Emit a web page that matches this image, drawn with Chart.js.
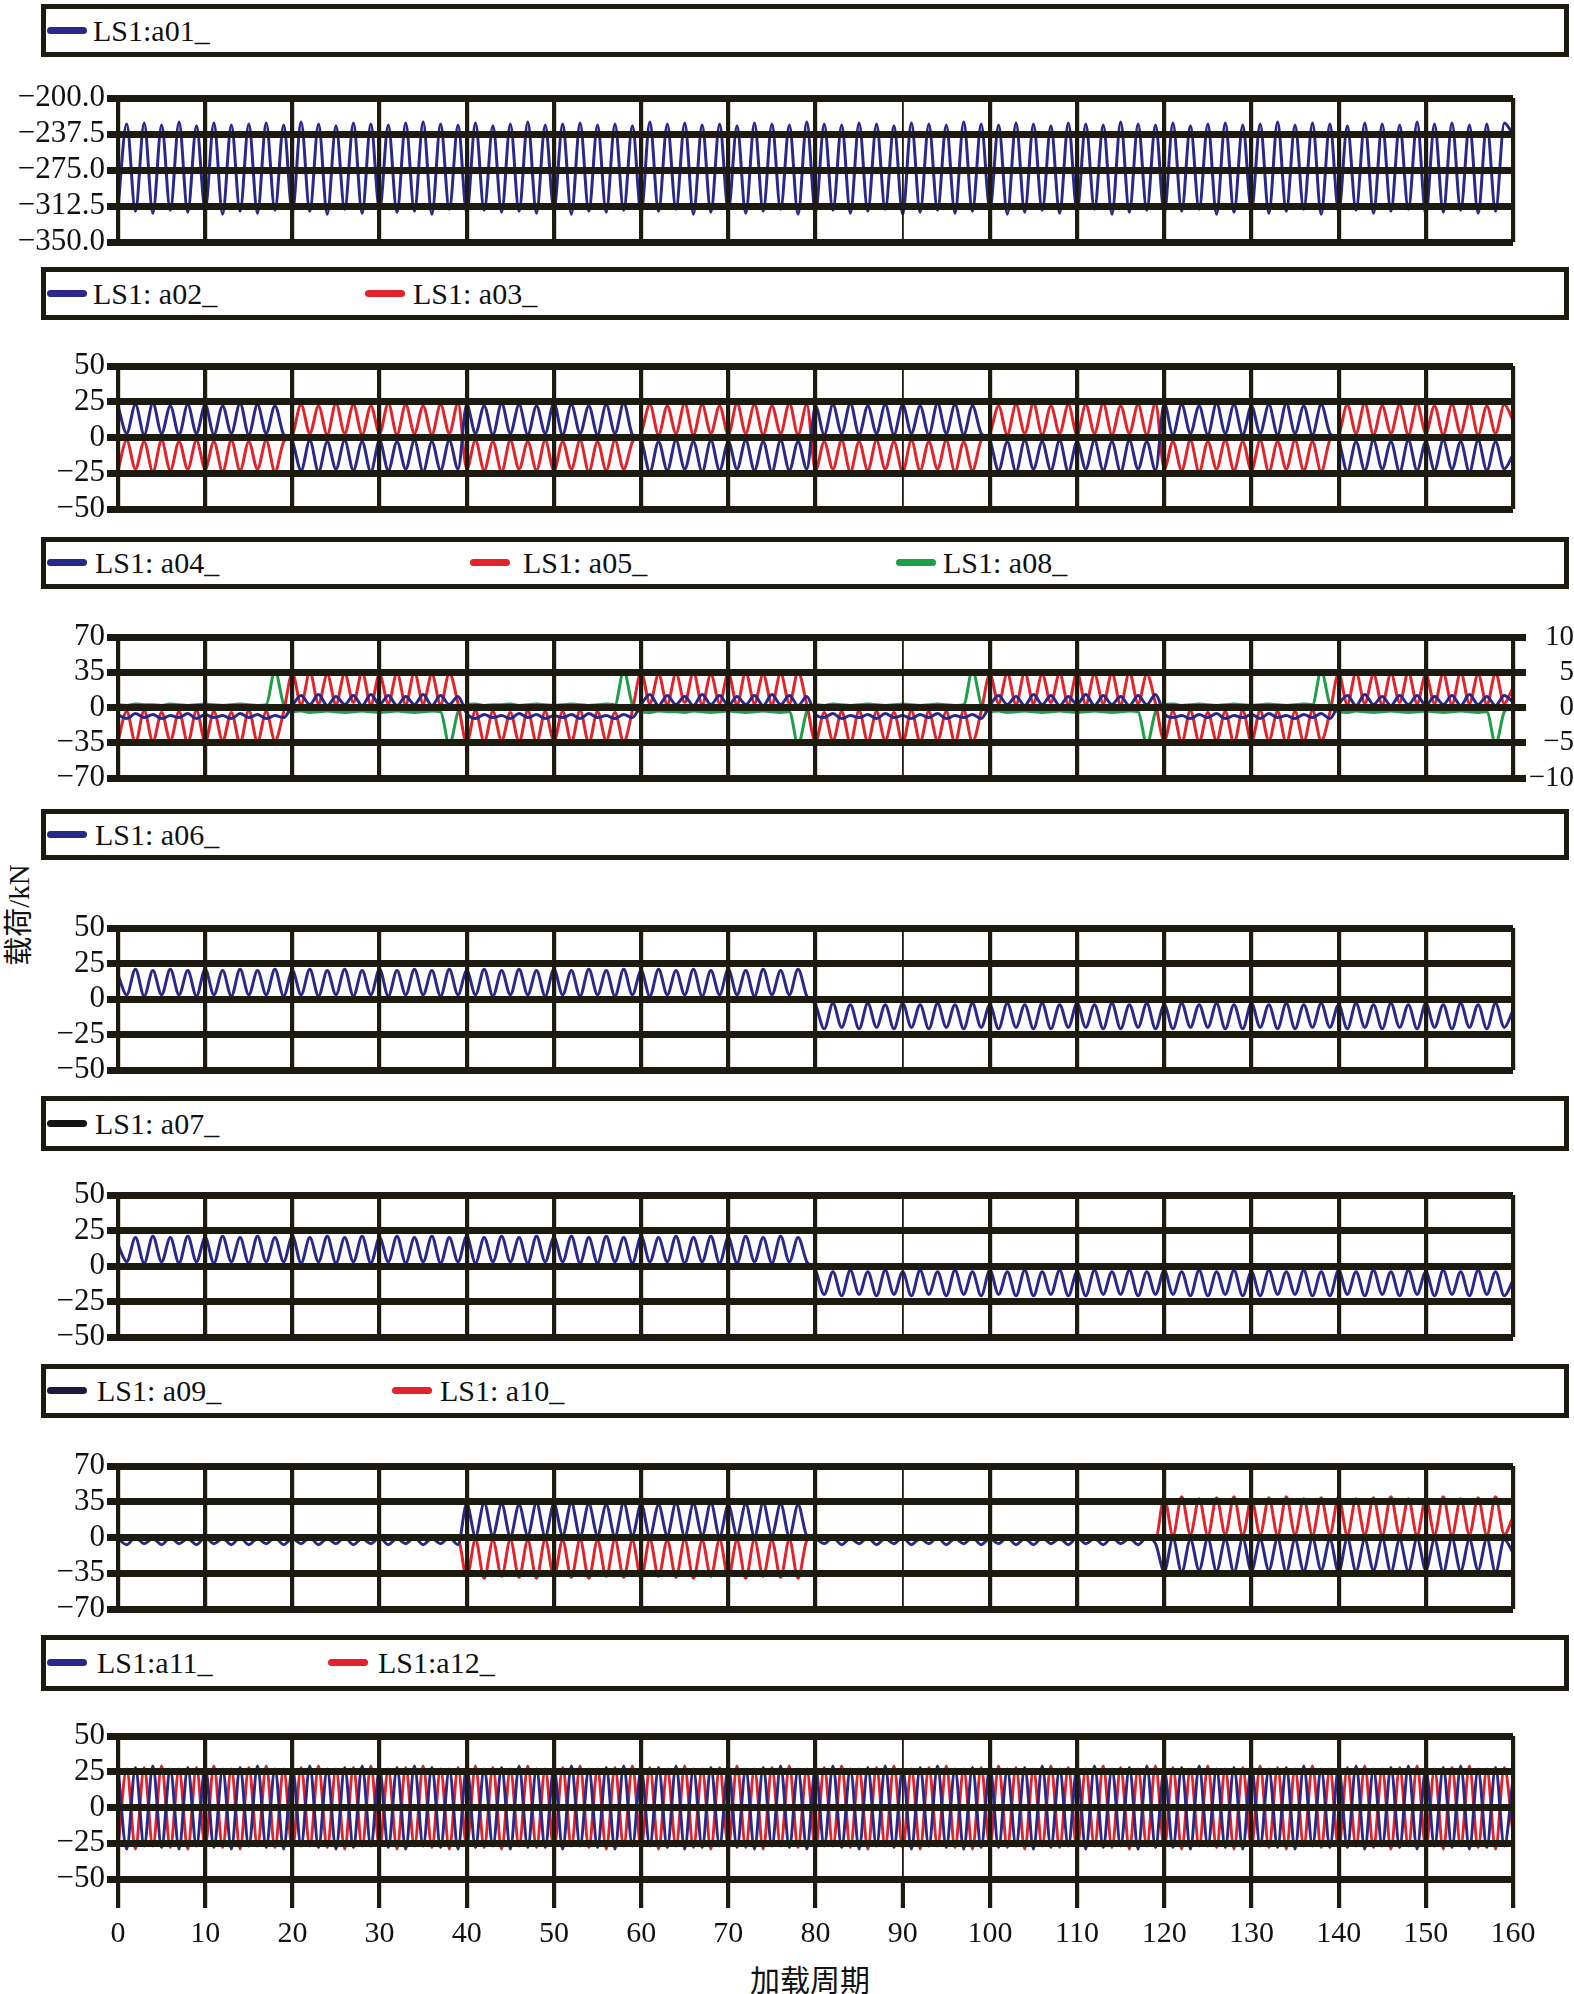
<!DOCTYPE html>
<html>
<head>
<meta charset="utf-8">
<script src="https://cdn.jsdelivr.net/npm/chart.js@4.4.1/dist/chart.umd.min.js"></script>
<style>
  body { margin: 0; background: #fff; }
  #page { position: relative; width: 1574px; height: 1994px; overflow: hidden; font-family: "Liberation Serif", serif; }
  #page canvas { position: absolute; left: 0; }
  .legend { position: absolute; left: 41px; width: 1528px; border: 5px solid #1d1a0f; box-sizing: border-box; background: #fff; }
  .legend .mk { position: absolute; width: 40px; height: 7px; border-radius: 3.5px; }
  .legend .tx { position: absolute; font-size: 30px; color: #111; white-space: pre; }
  .ytitle { position: absolute; left: 16px; top: 915px; transform: translate(-50%, -50%) rotate(-90deg); font-size: 29px; color: #111; white-space: nowrap; font-family: "Liberation Serif", "Noto Sans CJK SC", serif; }
  .xtitle { position: absolute; left: 810px; top: 1978px; transform: translate(-50%, -50%); font-size: 30px; color: #111; white-space: nowrap; font-family: "Noto Sans CJK SC", sans-serif; }
</style>
</head>
<body>
<div id="page">
  <div class="ytitle">载荷/kN</div>
  <div class="xtitle">加载周期</div>
</div>
<script>
// sample index along the loading-cycle axis (0..160)
const cycles = Array.from({ length: 161 }, (_, i) => i);
const xTickValues = [0, 10, 20, 30, 40, 50, 60, 70, 80, 90, 100, 110, 120, 130, 140, 150, 160];

const ticksA01 = [-350, -312.5, -275, -237.5, -200];
const ticks50 = [-50, -25, 0, 25, 50];
const ticks70 = [-70, -35, 0, 35, 70];
const ticks10 = [-10, -5, 0, 5, 10];

// LS1:a01_
const a01 = [
  -314,-227,-318,-226,-320,-228,-317,-225,-319,-229,
  -316,-226,-321,-228,-318,-227,-320,-226,-317,-228,
  -319,-225,-318,-227,-321,-229,-316,-226,-320,-227,
  -317,-228,-319,-226,-318,-225,-321,-227,-316,-228,
  -320,-226,-317,-229,-319,-227,-318,-225,-320,-228,
  -316,-227,-321,-226,-318,-228,-319,-227,-317,-229,
  -320,-225,-318,-227,-316,-226,-321,-228,-319,-227,
  -317,-229,-320,-226,-318,-227,-316,-228,-321,-225,
  -319,-227,-317,-228,-320,-226,-318,-227,-316,-229,
  -321,-226,-319,-227,-317,-228,-320,-225,-318,-227,
  -316,-228,-321,-226,-319,-227,-317,-229,-320,-226,
  -318,-227,-316,-228,-321,-225,-319,-227,-317,-228,
  -320,-226,-318,-229,-316,-227,-321,-226,-319,-228,
  -317,-227,-320,-225,-318,-228,-316,-226,-321,-227,
  -319,-229,-317,-226,-320,-227,-318,-228,-316,-225,
  -321,-227,-319,-226,-317,-228,-320,-227,-318,-226,
  -238
];

// LS1: a02_ / a03_
const a02 = [
  22,3,23,2,24,3,22,2,23,3,
  23,2,22,3,24,2,23,3,22,2,
  -3,-23,-2,-24,-3,-22,-2,-23,-3,-24,
  -2,-23,-3,-22,-2,-24,-3,-23,-2,-22,
  23,3,22,2,24,3,23,2,22,3,
  24,2,23,3,22,2,23,3,24,2,
  -2,-24,-3,-23,-2,-22,-3,-24,-2,-23,
  -3,-22,-2,-23,-3,-24,-2,-23,-3,-22,
  22,2,23,3,24,2,22,3,23,2,
  23,3,22,2,24,3,23,2,22,3,
  -2,-23,-3,-24,-2,-22,-3,-23,-2,-24,
  -3,-22,-2,-23,-3,-24,-2,-22,-3,-23,
  24,2,23,3,22,2,24,3,23,2,
  22,3,23,2,24,3,22,2,23,3,
  -2,-24,-3,-23,-2,-22,-3,-24,-2,-23,
  -3,-23,-2,-22,-3,-24,-2,-23,-3,-22,
  -12
];
const a03 = [
  -23,-2,-22,-3,-24,-2,-23,-3,-22,-2,
  -22,-3,-24,-2,-23,-3,-22,-2,-24,-3,
  2,23,3,22,2,24,3,23,2,22,
  3,24,2,23,3,22,2,23,3,24,
  -22,-2,-23,-3,-24,-2,-22,-3,-23,-2,
  -23,-3,-22,-2,-24,-3,-23,-2,-22,-3,
  3,23,2,22,3,24,2,23,3,22,
  2,24,3,23,2,22,3,24,2,23,
  -23,-3,-22,-2,-24,-3,-23,-2,-22,-3,
  -24,-2,-23,-3,-22,-2,-24,-3,-23,-2,
  3,22,2,23,3,24,2,22,3,23,
  2,23,3,24,2,22,3,23,2,24,
  -22,-3,-23,-2,-24,-3,-22,-2,-23,-3,
  -23,-2,-24,-3,-22,-2,-23,-3,-24,-2,
  2,23,3,24,2,22,3,23,2,24,
  3,22,2,23,3,24,2,22,3,23,
  12
];

// LS1: a04_ / a05_ (left axis), a08_ (right axis)
const a04 = [
  -7,-11,-6,-10,-7,-11,-8,-10,-6,-11,
  -7,-10,-8,-11,-6,-10,-7,-11,-8,-10,
  2,12,3,13,2,11,3,12,2,13,
  3,12,2,11,3,13,2,12,3,11,
  -6,-11,-7,-10,-8,-11,-6,-10,-7,-11,
  -8,-10,-7,-11,-6,-10,-8,-11,-7,-10,
  3,13,2,12,3,11,2,13,3,12,
  2,11,3,12,2,13,3,12,2,11,
  -7,-10,-6,-11,-8,-10,-7,-11,-6,-10,
  -8,-11,-7,-10,-6,-11,-8,-10,-7,-11,
  2,12,3,11,2,13,3,12,2,11,
  3,13,2,12,3,11,2,12,3,13,
  -6,-10,-8,-11,-7,-10,-6,-11,-8,-10,
  -7,-11,-6,-10,-8,-11,-7,-10,-6,-11,
  3,12,2,13,3,11,2,12,3,12,
  2,11,3,12,2,13,3,11,2,12,
  5
];
const a05 = [
  -33,-4,-35,-3,-34,-5,-33,-4,-35,-3,
  -34,-4,-33,-5,-35,-3,-34,-4,-33,-4,
  34,3,35,4,33,3,34,5,35,3,
  33,4,34,3,35,4,33,3,34,4,
  -35,-3,-34,-4,-33,-5,-34,-3,-35,-4,
  -33,-4,-34,-3,-35,-4,-33,-5,-34,-3,
  35,4,33,3,34,5,35,3,33,4,
  34,3,35,4,33,3,34,4,35,3,
  -34,-5,-33,-4,-35,-3,-34,-4,-33,-5,
  -35,-3,-34,-4,-33,-4,-35,-3,-34,-4,
  33,4,34,3,35,4,33,5,34,3,
  35,3,33,4,34,3,35,4,33,4,
  -33,-4,-35,-3,-34,-5,-33,-4,-35,-3,
  -34,-3,-33,-4,-35,-4,-34,-3,-33,-5,
  34,3,35,4,33,3,34,5,35,4,
  33,4,34,3,35,4,33,3,34,4,
  20
];
const a08 = [
  0.4,0.3,0.5,0.4,0.4,0.3,0.5,0.4,0.3,0.4,
  0.5,0.4,0.3,0.4,0.5,0.4,0.3,0.4,5.2,0.4,
  -0.6,-0.5,-0.7,-0.6,-0.5,-0.6,-0.7,-0.6,-0.5,-0.6,
  -0.7,-0.6,-0.5,-0.6,-0.7,-0.6,-0.5,-0.6,-5.3,-0.6,
  0.4,0.5,0.3,0.4,0.4,0.5,0.3,0.4,0.5,0.4,
  0.3,0.4,0.5,0.4,0.3,0.4,0.5,0.4,5.2,0.4,
  -0.6,-0.7,-0.5,-0.6,-0.6,-0.7,-0.5,-0.6,-0.7,-0.6,
  -0.5,-0.6,-0.7,-0.6,-0.5,-0.6,-0.7,-0.6,-5.2,-0.6,
  0.4,0.3,0.5,0.4,0.3,0.4,0.5,0.4,0.3,0.4,
  0.5,0.4,0.3,0.4,0.5,0.4,0.3,0.4,5.3,0.4,
  -0.6,-0.5,-0.7,-0.6,-0.5,-0.6,-0.7,-0.6,-0.5,-0.6,
  -0.7,-0.6,-0.5,-0.6,-0.7,-0.6,-0.5,-0.6,-5.2,-0.6,
  0.4,0.5,0.3,0.4,0.5,0.4,0.3,0.4,0.5,0.4,
  0.3,0.4,0.5,0.4,0.3,0.4,0.5,0.4,5.2,0.4,
  -0.6,-0.7,-0.5,-0.6,-0.7,-0.6,-0.5,-0.6,-0.7,-0.6,
  -0.5,-0.6,-0.7,-0.6,-0.5,-0.6,-0.7,-0.6,-5.2,-0.6,
  0.2
];

// LS1: a06_
const a06 = [
  17,3,21,2,20,3,21,3,20,2,
  21,3,20,2,21,3,20,3,21,2,
  20,3,21,2,20,3,21,2,20,3,
  21,2,20,3,21,3,20,2,21,3,
  20,3,21,2,20,3,21,3,20,2,
  21,3,20,2,21,3,20,2,21,3,
  20,2,21,3,20,3,21,2,20,3,
  21,3,20,2,21,3,20,3,21,2,
  -4,-21,-3,-20,-4,-21,-3,-20,-4,-21,
  -3,-20,-4,-21,-3,-20,-4,-21,-3,-20,
  -4,-21,-3,-20,-4,-21,-3,-21,-4,-20,
  -3,-20,-4,-21,-3,-21,-4,-20,-3,-21,
  -4,-21,-3,-20,-4,-20,-3,-21,-4,-21,
  -3,-20,-4,-21,-3,-21,-4,-20,-3,-20,
  -4,-21,-3,-20,-4,-21,-3,-20,-4,-21,
  -3,-20,-4,-21,-3,-20,-4,-21,-3,-20,
  -8
];

// LS1: a07_
const a07 = [
  15,3,20,2,21,3,20,2,21,3,
  20,2,21,3,20,2,21,3,20,3,
  21,2,20,3,21,2,20,3,21,2,
  20,3,21,2,20,3,21,2,20,3,
  21,2,20,3,21,3,20,2,21,3,
  20,3,21,2,20,2,21,3,20,2,
  21,3,20,3,21,2,20,3,21,2,
  20,2,21,3,20,2,21,3,20,3,
  -3,-20,-4,-21,-3,-20,-4,-21,-3,-20,
  -4,-21,-3,-20,-4,-21,-3,-20,-4,-21,
  -3,-20,-4,-21,-3,-21,-4,-20,-3,-21,
  -4,-21,-3,-20,-4,-20,-3,-21,-4,-20,
  -3,-20,-4,-21,-3,-21,-4,-20,-3,-21,
  -4,-21,-3,-20,-4,-20,-3,-21,-4,-21,
  -3,-20,-4,-21,-3,-20,-4,-21,-3,-20,
  -4,-21,-3,-20,-4,-21,-3,-20,-4,-21,
  -10
];

// LS1: a09_ / a10_
const a09 = [
  -1,-7,0,-6,-1,-7,0,-6,-1,-7,
  0,-6,-1,-7,0,-7,-1,-6,0,-7,
  -1,-6,0,-7,-1,-6,0,-7,-1,-6,
  0,-7,-1,-6,0,-7,-1,-6,0,-7,
  33,1,34,2,33,1,32,2,34,1,
  33,2,34,1,33,2,32,1,34,2,
  33,1,32,2,34,1,33,2,34,1,
  32,2,33,1,34,2,33,1,32,2,
  -1,-6,0,-7,-1,-6,0,-7,-1,-6,
  0,-7,-1,-6,0,-7,-1,-6,0,-7,
  -1,-6,0,-7,-1,-7,0,-6,-1,-7,
  0,-6,-1,-7,0,-6,-1,-7,0,-6,
  -33,-1,-34,-2,-32,-1,-33,-2,-34,-1,
  -33,-2,-32,-1,-34,-2,-33,-1,-32,-2,
  -34,-1,-33,-2,-32,-1,-34,-2,-33,-1,
  -32,-2,-34,-1,-33,-2,-32,-1,-34,-2,
  -15
];
const a10 = [
  1,-1,1,-1,0,-1,1,-1,1,0,
  1,-1,1,-1,1,-1,0,-1,1,-1,
  1,-1,0,-1,1,-1,1,-1,1,-1,
  1,0,1,-1,1,-1,1,-1,0,-1,
  -39,-2,-40,-3,-38,-2,-39,-3,-40,-2,
  -38,-3,-39,-2,-40,-3,-38,-2,-39,-3,
  -40,-2,-38,-3,-39,-2,-40,-3,-38,-2,
  -39,-3,-40,-2,-38,-3,-39,-2,-40,-3,
  1,-1,1,-1,1,0,1,-1,1,-1,
  0,-1,1,-1,1,-1,1,0,1,-1,
  1,-1,1,-1,0,-1,1,-1,1,-1,
  1,-1,1,0,1,-1,1,-1,1,-1,
  39,2,40,3,38,2,39,3,40,2,
  38,3,39,2,40,3,38,2,39,3,
  40,2,38,3,39,2,40,3,38,2,
  39,3,40,2,38,3,39,2,40,3,
  20
];

// LS1:a11_ / a12_
const a11 = [
  27,-29,28,-27,29,-28,27,-29,28,-27,
  29,-28,27,-29,28,-27,29,-28,27,-29,
  28,-27,29,-28,27,-29,28,-28,29,-27,
  27,-28,28,-29,29,-27,28,-28,27,-29,
  29,-28,27,-27,28,-29,29,-28,27,-28,
  28,-29,29,-27,27,-28,28,-29,29,-27,
  27,-27,28,-28,29,-29,27,-28,28,-27,
  29,-28,27,-29,28,-27,29,-28,27,-29,
  28,-27,29,-28,27,-29,28,-27,29,-28,
  27,-29,28,-27,29,-28,27,-29,28,-28,
  29,-28,27,-27,28,-29,29,-28,27,-27,
  28,-29,29,-28,27,-27,28,-29,29,-28,
  27,-28,28,-29,29,-27,27,-28,28,-29,
  29,-27,27,-28,28,-29,29,-27,27,-28,
  28,-28,29,-29,27,-27,28,-28,29,-29,
  27,-27,28,-28,29,-29,27,-28,28,-27,
  20
];
const a12 = [
  -28,27,-29,28,-27,29,-28,27,-29,28,
  -27,29,-28,27,-29,28,-27,29,-28,27,
  -29,28,-27,29,-28,27,-29,28,-27,29,
  -28,27,-29,28,-27,29,-28,27,-29,28,
  -27,29,-28,28,-29,27,-27,29,-28,27,
  -29,28,-27,29,-28,27,-29,28,-27,29,
  -28,28,-29,27,-27,29,-28,27,-29,28,
  -27,29,-28,27,-29,28,-27,29,-28,27,
  -29,28,-27,29,-28,27,-29,28,-27,29,
  -28,27,-29,28,-27,29,-28,27,-29,28,
  -27,29,-28,28,-29,27,-27,29,-28,28,
  -29,27,-27,29,-28,28,-29,27,-27,29,
  -28,28,-29,27,-27,29,-28,27,-29,28,
  -27,29,-28,28,-29,27,-27,29,-28,27,
  -29,28,-27,29,-28,27,-29,28,-27,29,
  -28,27,-29,28,-27,29,-28,27,-29,28,
  -18
];

const INK = '#1d1a0f';
const NAVY = '#2a2888';
const RED = '#e3232a';
const GREEN = '#1f9e4a';
const SERIF = '"Liberation Serif", "Times New Roman", serif';

const panels = [
  { legendTop: 4, legendBottom: 57, plotTop: 98, plotBottom: 242, yTicks: ticksA01, dec: 1,
    series: [{ label: 'LS1:a01_', data: a01, color: NAVY, at: 47, tx: 93 }] },
  { legendTop: 267, legendBottom: 320, plotTop: 366, plotBottom: 509, yTicks: ticks50, dec: 0,
    series: [{ label: 'LS1: a02_', data: a02, color: NAVY, at: 47, tx: 93 },
             { label: 'LS1: a03_', data: a03, color: RED, at: 365, tx: 413 }] },
  { legendTop: 537, legendBottom: 589, plotTop: 637, plotBottom: 778, yTicks: ticks70, rightTicks: ticks10, dec: 0,
    series: [{ label: 'LS1: a04_', data: a04, color: NAVY, at: 47, tx: 95 },
             { label: 'LS1: a05_', data: a05, color: RED, at: 470, tx: 523 },
             { label: 'LS1: a08_', data: a08, color: GREEN, at: 896, tx: 943, axis: 'y2' }] },
  { legendTop: 809, legendBottom: 860, plotTop: 928, plotBottom: 1070, yTicks: ticks50, dec: 0,
    series: [{ label: 'LS1: a06_', data: a06, color: NAVY, at: 47, tx: 95 }] },
  { legendTop: 1096, legendBottom: 1151, plotTop: 1195, plotBottom: 1337, yTicks: ticks50, dec: 0,
    series: [{ label: 'LS1: a07_', data: a07, color: NAVY, marker: '#151515', at: 47, tx: 95 }] },
  { legendTop: 1364, legendBottom: 1418, plotTop: 1466, plotBottom: 1609, yTicks: ticks70, dec: 0,
    series: [{ label: 'LS1: a09_', data: a09, color: NAVY, marker: '#1b1a3c', at: 47, tx: 97 },
             { label: 'LS1: a10_', data: a10, color: RED, at: 392, tx: 440 }] },
  { legendTop: 1635, legendBottom: 1691, plotTop: 1736, plotBottom: 1879, yTicks: ticks50, dec: 0,
    series: [{ label: 'LS1:a11_', data: a11, color: NAVY, at: 47, tx: 97 },
             { label: 'LS1:a12_', data: a12, color: RED, at: 328, tx: 378 }] }
];

function fmt(v, dec) {
  const s = Math.abs(v).toFixed(dec);
  return v < 0 ? '\u2212' + s : s;
}

const page = document.getElementById('page');

function makeLegend(p) {
  const box = document.createElement('div');
  box.className = 'legend';
  const h = p.legendBottom - p.legendTop;
  box.style.top = p.legendTop + 'px';
  box.style.height = h + 'px';
  const inner = h - 10;
  p.series.forEach(s => {
    const mk = document.createElement('div');
    mk.className = 'mk';
    mk.style.left = (s.at - 46) + 'px';
    mk.style.top = (inner / 2 - 4) + 'px';
    mk.style.background = s.marker || s.color;
    const tx = document.createElement('div');
    tx.className = 'tx';
    tx.textContent = s.label;
    tx.style.left = (s.tx - 46) + 'px';
    tx.style.top = '0px';
    tx.style.lineHeight = inner + 'px';
    box.appendChild(mk);
    box.appendChild(tx);
  });
  page.appendChild(box);
}

function makePlot(p, isLast) {
  const padTop = 24;
  const xh = isLast ? 80 : 24;
  const height = p.plotBottom - p.plotTop + padTop + xh;
  const cv = document.createElement('canvas');
  cv.width = 1574;
  cv.height = height;
  cv.style.width = '1574px';
  cv.style.height = height + 'px';
  cv.style.top = (p.plotTop - padTop) + 'px';
  page.appendChild(cv);

  const scales = {
    x: {
      type: 'linear', min: 0, max: 160,
      afterBuildTicks: s => { s.ticks = xTickValues.map(v => ({ value: v })); },
      afterFit: s => { s.height = xh; },
      border: { display: false },
      grid: {
        color: INK, z: 1,
        lineWidth: c => (c.tick && c.tick.value === 90 ? 1.8 : 4.2),
        drawTicks: isLast, tickLength: 29, tickWidth: 4.2, tickColor: INK
      },
      ticks: { display: isLast, autoSkip: false, maxRotation: 0, padding: 8, color: '#111',
               font: { family: SERIF, size: 30 } }
    },
    y: {
      min: p.yTicks[0], max: p.yTicks[p.yTicks.length - 1],
      afterBuildTicks: s => { s.ticks = p.yTicks.map(v => ({ value: v })); },
      afterFit: s => { s.width = 118; },
      border: { display: false },
      grid: { color: INK, lineWidth: 7, z: 1, tickLength: 11, tickWidth: 7, tickColor: INK },
      ticks: { autoSkip: false, padding: 2, color: '#111', font: { family: SERIF, size: 31 },
               callback: v => fmt(v, p.dec) }
    }
  };
  if (p.rightTicks) {
    scales.y2 = {
      position: 'right',
      min: p.rightTicks[0], max: p.rightTicks[p.rightTicks.length - 1],
      afterBuildTicks: s => { s.ticks = p.rightTicks.map(v => ({ value: v })); },
      afterFit: s => { s.width = 61; },
      border: { display: false },
      grid: { drawOnChartArea: false, color: INK, lineWidth: 7, tickLength: 13, tickWidth: 7, tickColor: INK },
      ticks: { autoSkip: false, padding: 2, crossAlign: 'far', color: '#111', font: { family: SERIF, size: 29 },
               callback: v => fmt(v, 0) }
    };
  }

  new Chart(cv.getContext('2d'), {
    type: 'line',
    data: {
      labels: cycles,
      datasets: p.series.map(s => ({
        label: s.label,
        data: s.data,
        yAxisID: s.axis || 'y',
        borderColor: s.color,
        borderWidth: 3,
        pointRadius: 0,
        cubicInterpolationMode: 'monotone',
        fill: false
      }))
    },
    options: {
      responsive: false,
      animation: false,
      devicePixelRatio: 1,
      events: [],
      layout: { padding: { top: padTop, right: p.rightTicks ? 0 : 61, left: 0, bottom: 0 } },
      plugins: { legend: { display: false }, tooltip: { enabled: false } },
      scales: scales
    }
  });
}

panels.forEach((p, i) => {
  makeLegend(p);
  makePlot(p, i === panels.length - 1);
});
</script>
</body>
</html>
